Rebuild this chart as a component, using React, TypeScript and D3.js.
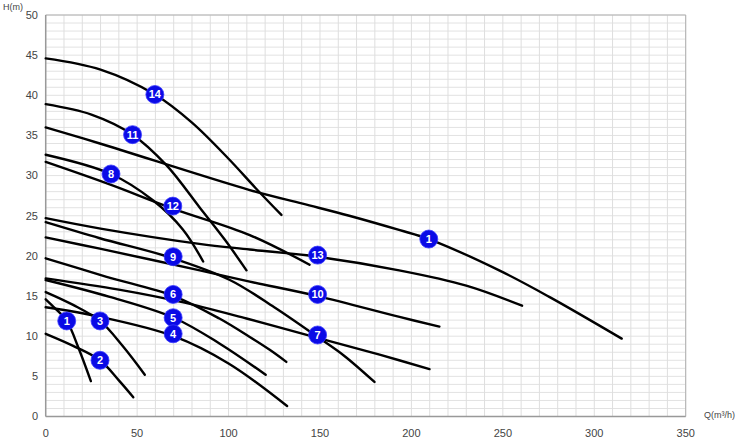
import React from "react";
import * as d3 from "d3";

// Pump curves: [Q (m³/h), H (m)]
const curveSmall1: [number, number][] = [[0, 14.6], [5, 13.5], [11.5, 11.9], [18, 8.5], [24.7, 4.4]];
const curve2: [number, number][] = [[0, 10.3], [15, 8.8], [29.7, 7.0], [40, 4.5], [47.9, 2.4]];
const curve3: [number, number][] = [[0, 15.5], [15, 13.9], [29.7, 11.9], [42, 8.8], [54.2, 5.2]];
const curve4: [number, number][] = [[0, 13.6], [30, 12.4], [70, 10.0], [100, 6.6], [132, 1.3]];
const curve5: [number, number][] = [[0, 17.0], [35, 14.9], [70, 12.3], [95, 9.1], [120.3, 5.2]];
const curve6: [number, number][] = [[0, 19.7], [33.3, 17.4], [70, 15.0], [95, 12.2], [111.6, 9.9], [122.5, 8.3], [131.6, 6.8]];
const curve7: [number, number][] = [[0, 17.2], [40, 15.8], [73.4, 14.3], [109.8, 12.2], [148.7, 9.8], [182.6, 7.7], [209.9, 5.9]];
const curve8: [number, number][] = [[0, 32.6], [35.7, 30.2], [58.8, 26.9], [75, 23.3], [86.1, 19.3]];
const curve9: [number, number][] = [[0, 24.2], [29.6, 22.2], [69.7, 19.7], [100.7, 17.0], [125, 13.6], [148.7, 9.9], [163, 7.6], [179.8, 4.3]];
const curve10: [number, number][] = [[0, 22.3], [29.6, 20.9], [84.3, 18.2], [111.6, 16.8], [148.7, 15.0], [193.5, 12.4], [215.3, 11.2]];
const curve11: [number, number][] = [[0, 38.9], [25, 37.6], [47.5, 35.1], [66, 31.3], [84.3, 26.0], [98, 22.0], [109.8, 18.2]];
const curve12: [number, number][] = [[0, 31.7], [35, 28.9], [69.5, 25.9], [111.6, 22.6], [144.3, 18.9]];
const curve13: [number, number][] = [[0, 24.7], [30, 23.4], [84, 21.5], [111.6, 20.8], [148.7, 19.9], [193.3, 18.2], [230, 16.3], [260.5, 13.8]];
const curve14: [number, number][] = [[0, 44.6], [30, 43.2], [59.7, 40.1], [80, 36.6], [100, 32.1], [115, 28.4], [128.9, 25.1]];
const curveBig1: [number, number][] = [[0, 36.0], [29.6, 34.0], [111.6, 28.2], [140.5, 26.5], [166, 25.0], [193.7, 23.2], [209.5, 22.1], [248, 18.2], [275.4, 14.9], [315, 9.7]];

const allCurves = [curveSmall1, curve2, curve3, curve4, curve5, curve6, curve7, curve8, curve9, curve10, curve11, curve12, curve13, curve14, curveBig1];

// Curve number badges
const labelText = ["14", "11", "8", "12", "1", "13", "9", "10", "6", "5", "4", "7", "1", "3", "2"];
const labelQ = [59.7, 47.5, 35.7, 69.5, 209.5, 148.7, 69.7, 148.7, 69.7, 69.7, 69.7, 148.7, 11.5, 29.7, 29.7];
const labelH = [40.1, 35.1, 30.2, 26.2, 22.1, 20.1, 19.9, 15.2, 15.2, 12.3, 10.3, 10.15, 11.9, 11.9, 7.0];

const xTicks = [0, 50, 100, 150, 200, 250, 300, 350];
const yTicks = [0, 5, 10, 15, 20, 25, 30, 35, 40, 45, 50];

export default function App() {
  const W = 746, H = 448;
  const x = d3.scaleLinear().domain([0, 350]).range([45.7, 685.7]);
  const y = d3.scaleLinear().domain([0, 50]).range([416.5, 15]);
  const line = d3
    .line<[number, number]>()
    .x((d) => x(d[0]))
    .y((d) => y(d[1]))
    .curve(d3.curveCatmullRom.alpha(0.5));

  const vGrid = d3.range(0, 351, 10);
  const hGrid = d3.range(0, 51, 1);
  const font = "'Liberation Sans', Arial, Helvetica, sans-serif";

  return (
    <svg width={W} height={H} style={{ position: "absolute", left: 0, top: 0, background: "#fff" }} fontFamily={font}>
      <rect x={0} y={0} width={W} height={H} fill="#fff" />
      {hGrid.map((v) => (
        <line key={"h" + v} x1={x(0)} x2={x(350)} y1={y(v)} y2={y(v)} stroke="#e2e2e2" strokeWidth={1} />
      ))}
      {vGrid.map((v) => (
        <line key={"v" + v} x1={x(v)} x2={x(v)} y1={y(0)} y2={y(50)} stroke="#dedede" strokeWidth={1} />
      ))}
      {/* frame */}
      <line x1={x(0)} x2={x(350)} y1={y(50)} y2={y(50)} stroke="#b0b0b0" strokeWidth={1} />
      <line x1={x(350)} x2={x(350)} y1={y(0)} y2={y(50)} stroke="#b0b0b0" strokeWidth={1} />
      <line x1={x(0)} x2={x(0)} y1={y(0)} y2={y(50)} stroke="#999" strokeWidth={1.5} />
      <line x1={x(0)} x2={x(350)} y1={y(0)} y2={y(0)} stroke="#999" strokeWidth={1.5} />

      {yTicks.map((t) => (
        <text key={"yt" + t} x={38} y={y(t)} dy="0.35em" textAnchor="end" fontSize={11} fill="#444">
          {t}
        </text>
      ))}
      {xTicks.map((t) => (
        <text key={"xt" + t} x={x(t)} y={433} dy="0.35em" textAnchor="middle" fontSize={11} fill="#444">
          {t}
        </text>
      ))}
      <text x={3} y={7} dy="0.35em" fontSize={9} fill="#444">H(m)</text>
      <text x={704} y={415} dy="0.35em" fontSize={9} fill="#444">Q(m³/h)</text>

      {allCurves.map((c, i) => (
        <path key={"c" + i} d={line(c) || ""} fill="none" stroke="#000" strokeWidth={2.4} strokeLinecap="round" />
      ))}

      {labelText.map((t, i) => (
        <g key={"l" + i} transform={`translate(${x(labelQ[i])},${y(labelH[i])})`}>
          <circle r={9} fill="#0a0ae6" stroke="#3a3aff" strokeWidth={0.8} />
          <text textAnchor="middle" dy="0.36em" fontSize={11} fontWeight="bold" fill="#fff">
            {t}
          </text>
        </g>
      ))}
    </svg>
  );
}
